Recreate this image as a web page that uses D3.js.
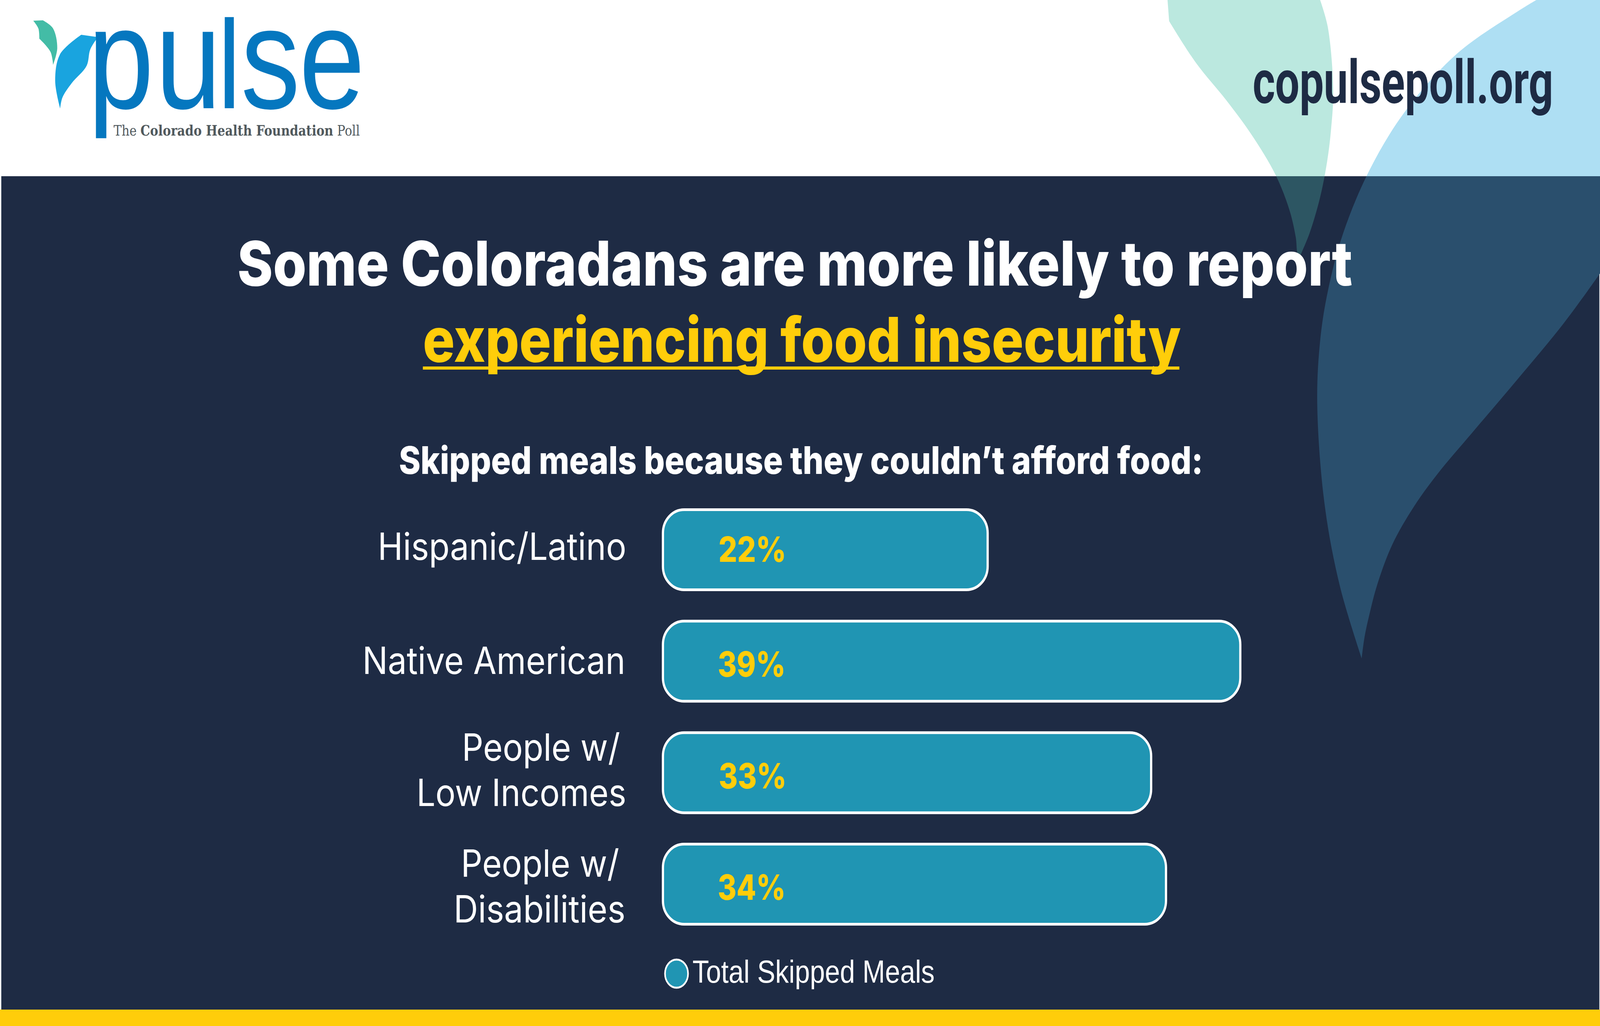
<!DOCTYPE html>
<html>
<head>
<meta charset="utf-8">
<script src="https://cdn.jsdelivr.net/npm/d3@7"></script>
<style>
  html, body { margin: 0; padding: 0; background: #fff; overflow: hidden; }
  svg { display: block; width: 100vw; height: 100vh; }
</style>
</head>
<body>
<div id="chart"></div>
<script>
// values
const categories = ["Hispanic/Latino", "Native American", "People w/ Low Incomes", "People w/ Disabilities"];
const categoryLines = [["Hispanic/Latino"], ["Native American"], ["People w/", "Low Incomes"], ["People w/", "Disabilities"]];
const skippedMeals = [22, 39, 33, 34];
const legendLabel = "Total Skipped Meals";
const titleLine1 = "Some Coloradans are more likely to report";
const titleLine2 = "experiencing food insecurity";
const subtitle = "Skipped meals because they couldn\u2019t afford food:";
const siteName = "copulsepoll.org";

const width = 5002, height = 2626;
const navy = "#1e2b44", yellow = "#ffcd0a", barFill = "#2095b3", logoGrey = "#50595d";
const bodyFont = "Inter, 'Open Sans', sans-serif";

// drawn in reference pixels, the viewBox fits them to whatever window we get
const svg = d3.select("#chart").append("svg")
  .attr("viewBox", `0 0 ${width} ${height}`)
  .attr("preserveAspectRatio", "none");

// text squeezed between two x positions, the original font isn't installed
function fitText(parent, str, x0, x1, y, size, fill, family, weight) {
  return parent.append("text")
    .attr("x", x0)
    .attr("y", y)
    .attr("textLength", x1 - x0)
    .attr("lengthAdjust", "spacingAndGlyphs")
    .style("font-family", family)
    .style("font-size", size + "px")
    .style("font-weight", weight)
    .style("fill", fill)
    .text(str);
}

// leaves: each edge is a smooth run, edges meet in a sharp tip
const edge = d3.line().curve(d3.curveCatmullRom.alpha(0.5));
function leaf(edges) {
  return edges.map((e, i) => {
    const s = edge(e);
    return i ? s.replace(/^M[^CL]*/, "") : s;
  }).join("") + "Z";
}

const tealLeaf = leaf([
  [[3650, 0], [3655, 54]],
  [[3655, 54], [3739, 161], [3835, 258], [3912, 344], [3988, 448], [4032, 540], [4051, 608], [4057, 649], [4065, 654]],
  [[4065, 654], [4094, 597], [4127, 505], [4149, 413], [4161, 333], [4168, 230], [4151, 69], [4127, 0]]
]);
const blueLeaf = leaf([
  [[4803, 0], [5002, 0]],
  [[5002, 0], [5002, 700]],
  [[5002, 700], [4889, 827], [4745, 970], [4602, 1108], [4496, 1211], [4420, 1297], [4352, 1395], [4305, 1498], [4281, 1573], [4266, 1630], [4257, 1685]],
  [[4257, 1685], [4190, 1504], [4142, 1297], [4118, 1033], [4127, 873], [4151, 746], [4199, 597], [4281, 436], [4391, 287], [4554, 138], [4745, 29], [4803, 0]]
]);
const logoGreen = leaf([
  [[104, 53], [134, 52]],
  [[134, 52], [166, 73], [179, 123], [166, 166]],
  [[166, 166], [158, 133], [123, 99]],
  [[123, 99], [120, 73], [104, 53]]
]);
const logoBlue = leaf([
  [[254, 89], [306, 95]],
  [[306, 95], [282, 127], [271, 168], [224, 213], [195, 250], [188, 278]],
  [[188, 278], [172.5, 207], [187, 140], [254, 89]]
]);

svg.append("rect").attr("width", width).attr("height", height).attr("fill", "#fff");
svg.append("rect").attr("x", 4).attr("y", 451).attr("width", width - 6).attr("height", 2133).attr("fill", navy);
svg.append("rect").attr("y", 2584).attr("width", width).attr("height", 42).attr("fill", yellow);

// background leaves change tint where they cross the navy panel
const defs = svg.append("defs");
defs.append("clipPath").attr("id", "above").append("rect").attr("width", width).attr("height", 451);
defs.append("clipPath").attr("id", "below").append("rect").attr("y", 451).attr("width", width).attr("height", 2133);

[[tealLeaf, "#bbe8df", "#2d5663"], [blueLeaf, "#aedff3", "#2a4f6d"]].forEach(([d, light, dark]) => {
  svg.append("path").attr("d", d).attr("fill", light).attr("clip-path", "url(#above)");
  svg.append("path").attr("d", d).attr("fill", dark).attr("clip-path", "url(#below)");
});

// logo, the l is shorter against the x-height than in any installed font
svg.append("path").attr("fill", "#43bca6").attr("d", logoGreen);
svg.append("path").attr("fill", "#19a4df").attr("d", logoBlue);
const wordmark = svg.append("text")
  .attr("x", "275 486 681 753 935")
  .attr("y", 277)
  .style("font-family", "'Liberation Sans', Arial, sans-serif")
  .style("font-size", "370px")
  .style("fill", "#0577bf");
wordmark.append("tspan").text("pu");
wordmark.append("tspan").style("font-size", "322px").text("l");
wordmark.append("tspan").text("se");

const tagline = svg.append("text")
  .attr("x", 355)
  .attr("y", 347)
  .attr("textLength", 770)
  .attr("lengthAdjust", "spacingAndGlyphs")
  .style("font-family", "'DejaVu Serif', serif")
  .style("font-size", "38px")
  .style("fill", logoGrey);
tagline.append("tspan").text("The ");
tagline.append("tspan").style("font-weight", 700).text("Colorado Health Foundation");
tagline.append("tspan").text(" Poll");

fitText(svg, siteName, 3916, 4856, 264, 155, navy, "'Liberation Sans Narrow', Roboto, sans-serif", 700);

// titles
fitText(svg, titleLine1, 742, 4228, 731, 158, "#fff", bodyFont, 800);
fitText(svg, titleLine2, 1322, 3692, 926, 158, yellow, bodyFont, 800);
svg.append("line")
  .attr("x1", 1322).attr("x2", 3687)
  .attr("y1", 942).attr("y2", 942)
  .attr("stroke", yellow)
  .attr("stroke-width", 8);
fitText(svg, subtitle, 1247, 3761, 1213, 98, "#fff", bodyFont, 800);

// bars
const x = d3.scaleLinear().domain([0, 39]).range([2069, 3881]);
const y = d3.scaleBand().domain(categories).range([1304.5, 2365.5]).paddingInner(0.2815);
const strokeW = 7;

svg.selectAll("rect.bar")
  .data(skippedMeals)
  .enter()
  .append("rect")
  .attr("class", "bar")
  .attr("x", x(0) + strokeW / 2)
  .attr("y", (d, i) => y(categories[i]))
  .attr("width", (d) => x(d) - x(0) - strokeW)
  .attr("height", y.bandwidth())
  .attr("rx", 66)
  .attr("ry", 60)
  .attr("fill", barFill)
  .attr("stroke", "#fff")
  .attr("stroke-width", strokeW);

// hand placed like the original, offsets from the bar's top and the zero line
const valueDy = [133.5, 142.5, 142.5, 142.5];
const valueLeft = [181, 179, 182, 179];
skippedMeals.forEach((d, i) => {
  const left = x(0) + valueLeft[i];
  fitText(svg, d + "%", left - 4, left + 208, y(categories[i]) + valueDy[i], 89, yellow, bodyFont, 800);
});

const labelDy = [[128.5], [135.5], [71.5, 188], [83.5, 200.5]];
const labelLeft = [[-882], [-930], [-619, -761], [-622, -645]];
const labelRight = [[-116], [-119], [-135.5, -116], [-138, -119]];
categoryLines.forEach((lines, i) => {
  lines.forEach((line, j) => {
    fitText(svg, line, x(0) + labelLeft[i][j] - 6, x(0) + labelRight[i][j] + 5,
      y(categories[i]) + labelDy[i][j], 96, "#fff", bodyFont, 400);
  });
});

// legend
svg.append("circle")
  .attr("cx", 2115).attr("cy", 2492).attr("r", 36)
  .attr("fill", barFill)
  .attr("stroke", "#fff")
  .attr("stroke-width", 5);
fitText(svg, legendLabel, 2165, 2922, 2515, 82, "#fff", "'Liberation Sans', Arial, sans-serif", 400);
</script>
</body>
</html>
